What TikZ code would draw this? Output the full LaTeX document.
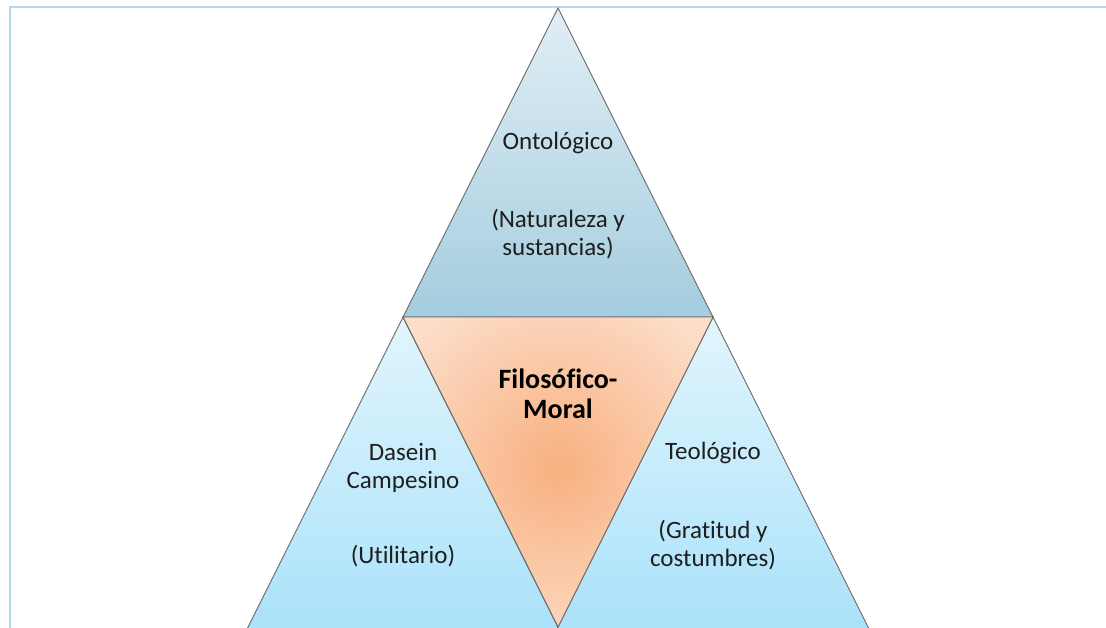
\documentclass[tikz,border=0pt]{standalone}
\usepackage{fontspec}
\setmainfont{Carlito}[Ligatures=NoCommon]
\definecolor{framec}{RGB}{178,219,231}
\definecolor{edgec}{RGB}{105,105,105}
\definecolor{topA}{RGB}{225,238,245}
\definecolor{topB}{RGB}{164,205,223}
\definecolor{sideA}{RGB}{226,245,253}
\definecolor{sideB}{RGB}{170,226,250}
\definecolor{midA}{RGB}{248,176,128}
\definecolor{midB}{RGB}{252,221,200}
\definecolor{txt}{RGB}{30,30,30}
\tikzset{
  tri/.style={draw=edgec, line width=0.9pt, line join=miter},
  lbl/.style={text=txt, font=\fontsize{25}{28}\selectfont, align=center, inner sep=0pt},
  blbl/.style={lbl, text=black, font=\fontsize{28}{30}\selectfont\bfseries}
}
\begin{document}
\begin{tikzpicture}[x=1pt,y=-1pt]
\useasboundingbox (0,0) rectangle (1106,627);
\clip (0,0) rectangle (1106,627);
% frame
\draw[framec, line width=2.6pt] (10,640) -- (10,7) -- (1120,7);
% corner points
\coordinate (A) at (558,8);
\coordinate (L) at (403,317);
\coordinate (R) at (713,317);
\coordinate (BL) at (247,629);
\coordinate (BM) at (558,627);
\coordinate (BML) at (559,629);
\coordinate (BMR) at (557,629);
\coordinate (BR) at (869,629);
% top triangle
\shade[top color=topA, bottom color=topB] (A) -- (R) -- (L) -- cycle;
\draw[tri] (A) -- (R) -- (L) -- cycle;
% left triangle
\shade[top color=sideA, bottom color=sideB] (L) -- (BML) -- (BL) -- cycle;
\draw[tri] (L) -- (BML) -- (BL) -- cycle;
% right triangle
\shade[top color=sideA, bottom color=sideB] (R) -- (BR) -- (BMR) -- cycle;
\draw[tri] (R) -- (BR) -- (BMR) -- cycle;
% centre triangle
\fill[midB] (L) -- (R) -- (BM) -- cycle;
\begin{scope}
  \clip (L) -- (R) -- (BM) -- cycle;
  \shade[inner color=midA, outer color=midB] (558,468) circle (190);
\end{scope}
\draw[tri] (L) -- (R) -- (BM) -- cycle;
% labels
\node[lbl] (onto) at (558,143) {Ontológico};
\node[lbl] (ontod) at (558,234) {(Naturaleza y\\sustancias)};
\node[lbl] (dasein) at (403,468) {Dasein\\Campesino};
\node[lbl] (util) at (403,556) {(Utilitario)};
\node[lbl] (teo) at (713,453) {Teológico};
\node[lbl] (teod) at (713,545) {(Gratitud y\\costumbres)};
\node[blbl] (filo) at (558,394) {Filosófico-\\Moral};
\end{tikzpicture}
\end{document}
